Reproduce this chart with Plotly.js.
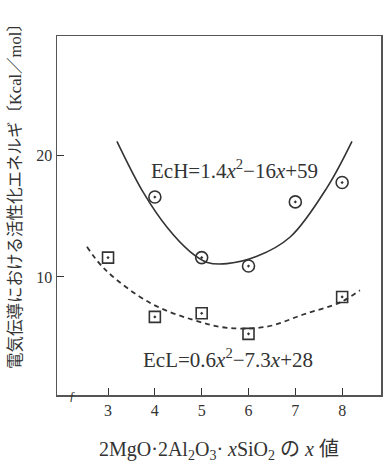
<!DOCTYPE html>
<html><head><meta charset="utf-8">
<script src="https://cdn.plot.ly/plotly-3.0.1.min.js"></script>
<style>html,body{margin:0;padding:0;background:#fff}#chart{width:390px;height:467px}</style>
</head><body><div id="chart"></div>
<script>
// measured points
const xH = [4, 5, 6, 7, 8];
const yH = [16.6, 11.6, 10.9, 16.2, 17.8];
const xL = [3, 4, 5, 6, 8];
const yL = [11.6, 6.7, 7.0, 5.3, 8.35];
// fitted curves as drawn
const curveHx = [3.19, 3.75, 4.26, 4.75, 5.12, 5.54, 6.18, 6.89, 7.68, 8.21];
const curveHy = [21.2, 17.0, 14.1, 12.1, 11.2, 11.1, 11.7, 13.3, 17.4, 21.2];
const curveLx = [2.55, 2.94, 3.9, 4.82, 5.54, 6.4, 7.17, 7.96, 8.38];
const curveLy = [12.5, 10.6, 7.85, 6.45, 5.8, 5.9, 6.9, 7.9, 8.9];
const xTicks = [3, 4, 5, 6, 7, 8];
const yTicks = [10, 20];
const eqH = 'EcH=1.4<i>x</i><sup>2</sup>−16<i>x</i>+59';
const eqL = 'EcL=0.6<i>x</i><sup>2</sup>−7.3<i>x</i>+28';
const yTitle = '電気伝導における活性化エネルギ〔Kcal／mol〕';
const xTitle = '2MgO·2Al<sub>2</sub>O<sub>3</sub>· <i>x</i>SiO<sub>2</sub> の <i>x</i> 値';

const ink = '#333';
const font = 'Liberation Serif, DejaVu Serif, Noto Sans CJK JP, serif';

const traces = [
  {x: curveHx, y: curveHy, mode: 'lines', line: {shape: 'spline', color: ink, width: 1.6}, hoverinfo: 'skip'},
  {x: curveLx, y: curveLy, mode: 'lines', line: {shape: 'spline', color: ink, width: 1.8, dash: '5px,4px'}, hoverinfo: 'skip'},
  {x: xH, y: yH, mode: 'markers', marker: {symbol: 'circle-open-dot', size: 12, color: ink, line: {width: 1.6, color: ink}}},
  {x: xL, y: yL, mode: 'markers', marker: {symbol: 'square-open-dot', size: 11, color: ink, line: {width: 1.6, color: ink}}}
];

const layout = {
  width: 390, height: 467,
  margin: {l: 57, r: 9, t: 36, b: 72},
  paper_bgcolor: '#fff', plot_bgcolor: '#fff',
  showlegend: false,
  font: {family: font, color: ink, size: 15},
  xaxis: {
    range: [1.91, 8.83], tickvals: xTicks, ticks: 'inside', ticklen: 7, tickcolor: ink,
    showline: true, mirror: true, linecolor: '#555', linewidth: 1.5, showgrid: false, zeroline: false,
    tickfont: {size: 16, family: font},
    title: {text: xTitle, font: {size: 20, family: font}, standoff: 24}
  },
  yaxis: {
    range: [0.25, 29.9], tickvals: yTicks, ticks: 'inside', ticklen: 7, tickcolor: ink,
    showline: true, mirror: true, linecolor: '#555', linewidth: 1.5, showgrid: false, zeroline: false,
    tickfont: {size: 16, family: font}
  },
  annotations: [
    {xref: 'paper', yref: 'paper', x: -0.13, y: 0.565, text: yTitle, textangle: -90, showarrow: false,
     xanchor: 'center', yanchor: 'middle', font: {size: 16.5, family: font, color: ink}},
    {x: 5.71, y: 18.9, text: eqH, showarrow: false, font: {size: 21, family: font, color: ink}},
    {x: 5.56, y: 3.3, text: eqL, showarrow: false, font: {size: 21, family: font, color: ink}},
    {x: 2.25, y: 0.25, text: 'ƒ', showarrow: false, font: {size: 13, family: font, color: ink}}
  ]
};

Plotly.newPlot('chart', traces, layout, {displayModeBar: false, staticPlot: true});
</script></body></html>
